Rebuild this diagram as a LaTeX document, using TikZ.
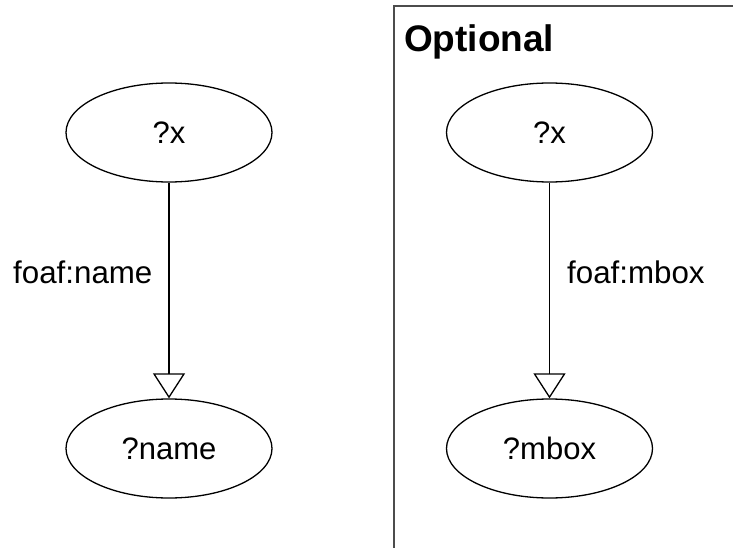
\documentclass[tikz,border=0pt]{standalone}
\usepackage{fontspec}
\setmainfont{Liberation Sans}
\usetikzlibrary{shapes.geometric,arrows.meta}
\tikzset{
  var/.style={ellipse, draw, line width=1.3pt, minimum width=206pt, minimum height=99pt, inner sep=0pt, font=\fontsize{31}{37}\selectfont},
  prop/.style={inner sep=0pt, font=\fontsize{31.3}{37}\selectfont},
  edge/.style={line width=1.3pt, -{Triangle[open, length=25pt, width=32pt, line width=1.3pt]}},
  boxline/.style={draw=black!70, line width=2.2pt}
}
\begin{document}
\begin{tikzpicture}[x=1pt, y=-1pt]
\useasboundingbox (0,0) rectangle (733,548);
\draw[boxline] (740,6) -- (394,6) -- (394,560);
\node[anchor=base west, inner sep=0pt, font=\fontsize{37}{43}\selectfont\bfseries] (opt) at (404,52) {Optional};
\node[var] (x1) at (169,132.5) {?x};
\node[var] (n1) at (169,448.5) {?name};
\node[var] (x2) at (549.5,132.5) {?x};
\node[var] (n2) at (549.5,448.5) {?mbox};
\draw[edge] (x1) -- (n1);
\draw[edge] (x2) -- (n2);
\node[prop, anchor=west] (l1) at (13,272) {foaf:name};
\node[prop, anchor=west] (l2) at (567,272) {foaf:mbox};
\end{tikzpicture}
\end{document}
